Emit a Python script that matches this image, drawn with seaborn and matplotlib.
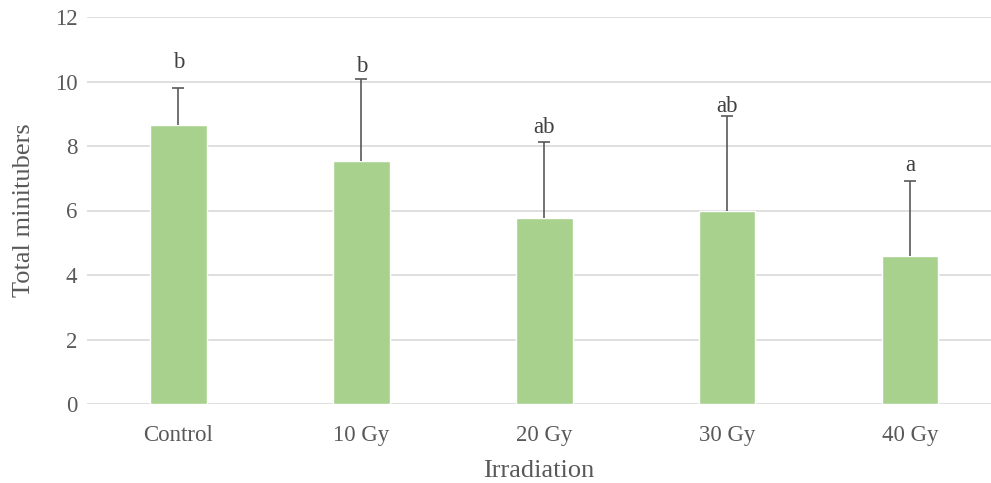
import numpy as np
import pandas as pd
import matplotlib
matplotlib.use("Agg")
import matplotlib.pyplot as plt
import seaborn as sns

categories = ["Control", "10 Gy", "20 Gy", "30 Gy", "40 Gy"]
means = [8.65, 7.54, 5.76, 5.99, 4.59]
errors = [1.16, 2.55, 2.37, 2.94, 2.33]
letters = ["b", "b", "ab", "ab", "a"]
letter_y = [10.6, 10.48, 8.56, 9.24, 7.38]

bar_color = "#A9D18E"
text_color = "#595959"
grid_color = "#D9D9D9"

sns.set_theme(style="white")
plt.rcParams["font.family"] = ["Liberation Serif", "DejaVu Serif"]

df = pd.DataFrame({"Irradiation": categories, "Total minitubers": means})

fig = plt.figure(figsize=(9.91, 4.83), dpi=100)
ax = fig.add_axes([87 / 991, 79 / 483, 1 - 87 / 991, 387 / 483])

sns.barplot(data=df, x="Irradiation", y="Total minitubers", color=bar_color,
            saturation=1, width=0.31, errorbar=None, ax=ax, zorder=2)

x = np.arange(len(categories))
_, caps, _ = ax.errorbar(x, means, yerr=[np.zeros(len(means)), errors], fmt="none",
                         ecolor=text_color, elinewidth=1.2, capsize=4.3,
                         capthick=1.2, zorder=3)
caps[0].set_visible(False)

for xi, lab, ly in zip(x, letters, letter_y):
    ax.text(xi, ly, lab, ha="center", va="center", fontsize=16.5, color="#404040")

ax.set_ylim(0, 12)
ax.set_yticks(range(0, 13, 2))
ax.set_xlim(-0.5, 4.443)
ax.yaxis.grid(True, color=grid_color, linewidth=1.2, zorder=0)
ax.set_axisbelow(True)
for s in ax.spines.values():
    s.set_visible(False)
ax.tick_params(axis="both", length=0, labelsize=16.5, labelcolor=text_color)
ax.tick_params(axis="x", pad=15)
ax.tick_params(axis="y", pad=7)
ax.set_xlabel("Irradiation", fontsize=19, color=text_color, labelpad=10)
ax.set_ylabel("Total minitubers", fontsize=19, color=text_color, labelpad=14)

fig.savefig("out.png", dpi=100)
